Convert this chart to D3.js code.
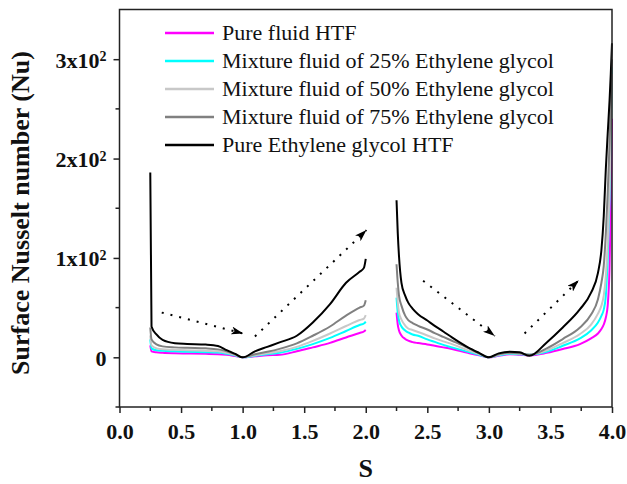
<!DOCTYPE html>
<html>
<head>
<meta charset="utf-8">
<script src="https://cdn.jsdelivr.net/npm/d3@7/dist/d3.min.js"></script>
<style>
  html, body { margin: 0; padding: 0; background: #fff; }
  svg { display: block; }
  text { font-family: "Liberation Serif", "Times New Roman", serif; fill: #111; }
</style>
</head>
<body>
<svg id="chart" width="627" height="484"></svg>
<script>
// Dimensionless position along the wall, first and second heated section
const sLeft = [0.25, 0.26, 0.3, 0.35, 0.45, 0.55, 0.7, 0.8, 0.87, 0.94, 1.0,
               1.1, 1.2, 1.3, 1.44, 1.57, 1.71, 1.84, 1.95, 1.985, 2.0];
const sRight = [2.25, 2.26, 2.27, 2.29, 2.32, 2.345, 2.38, 2.425, 2.5, 2.56, 2.63,
                2.7, 2.83, 2.92, 3.0, 3.08, 3.17, 3.25, 3.33, 3.47, 3.6, 3.74,
                3.83, 3.886, 3.914, 3.933, 3.95, 3.965, 3.98, 3.99, 4.0];

// Surface Nusselt number, first section
const nuPureFluidLeft = [12, 6, 5, 4.5, 4, 3.8, 3.5, 3.2, 2.5, 1.2, 0,
                         1, 2, 2.5, 6, 10, 14.5, 20, 24.5, 26, 27.4];
const nuEg25Left = [18, 9, 7, 6.5, 6, 5.5, 5.2, 4.8, 3.5, 1.8, 0,
                    1.5, 3, 4.5, 8.5, 13.3, 19.5, 26.5, 32.5, 34, 36];
const nuEg50Left = [22, 12, 9, 8, 7.5, 7, 6.5, 6, 4.5, 2.3, 0,
                    2, 4, 6, 10.5, 16.5, 24, 31.5, 37.5, 39, 42.5];
const nuEg75Left = [30, 18, 13, 11, 10, 9.5, 9, 8, 6, 3, 0,
                    3, 5.5, 8.5, 14, 21.7, 31, 42, 50, 52, 57.5];
const nuPureEgLeft = [186, 31, 23, 17.5, 14.2, 13.5, 12.8, 11.3, 7.3, 3.5, 0,
                      6, 10.5, 15, 21.7, 35, 53.5, 75, 86, 90, 99];

// Surface Nusselt number, second section
const nuPureFluidRight = [45, 33, 27, 22, 18.5, 16.7, 15.3, 14.3, 13, 11.6, 10,
                          8.3, 4.5, 2, 0, 1.5, 3, 2.5, 2, 4.5, 8.3, 13.3,
                          19, 24, 28.4, 33, 40, 52, 90, 150, 240];
const nuEg25Right = [60, 45, 37, 31, 27, 25, 23, 21.7, 18, 15.5, 12.5,
                     10, 5.5, 2.5, 0, 2, 3.5, 3, 2.5, 5.5, 11.6, 19,
                     27, 35, 41.7, 48, 62, 100, 160, 220, 292];
const nuEg50Right = [70, 55, 45, 38, 32, 29, 27.5, 25.5, 22, 19, 16,
                     13.3, 7, 3.3, 0, 2.5, 4, 3.5, 2.5, 7, 14.3, 23.4,
                     33, 44, 52, 62, 82, 115, 170, 225, 285];
const nuEg75Right = [93.6, 75, 62, 52, 42, 37.5, 34.5, 31.7, 28, 24.4, 20.5,
                     16.7, 9.5, 4, 0, 3, 4.5, 4, 2.5, 9, 18.4, 30,
                     43, 58.5, 75, 92, 125, 165, 215, 255, 300];
const nuPureEgRight = [158, 125, 102, 75, 62, 55, 49, 43.4, 37, 31.7, 26,
                       20, 10, 4.5, 0, 4, 5.6, 5, 1.5, 15, 30, 48.4,
                       65, 85, 108, 142, 190, 225, 258, 285, 316];

const seriesNames = ["Pure fluid HTF",
                     "Mixture fluid of 25% Ethylene glycol",
                     "Mixture fluid of 50% Ethylene glycol",
                     "Mixture fluid of 75% Ethylene glycol",
                     "Pure Ethylene glycol HTF"];

// Axis ticks
const xTicks = [0, 0.5, 1.0, 1.5, 2.0, 2.5, 3.0, 3.5, 4.0];
const xMinorTicks = [0.25, 0.75, 1.25, 1.75, 2.25, 2.75, 3.25, 3.75];
const yTicks = [0, 100, 200, 300];
const yTickMantissa = ["0", "1", "2", "3"];
const yMinorTicks = [-50, 50, 150, 250];

// Dotted trend arrows (start S, start Nu, end S, end Nu)
const trendArrows = [
  [0.343, 45, 1.005, 24],
  [1.10, 21, 2.006, 128],
  [2.466, 77, 3.048, 21.5],
  [3.29, 24, 3.73, 77.5]
];

const colors = ["#ff00ff", "#00ffff", "#c8c8c8", "#808080", "#000000"];

const svg = d3.select("#chart");
const margin = { left: 119.5, top: 9.5, right: 15, bottom: 77 };
const W = 627 - margin.left - margin.right;
const H = 484 - margin.top - margin.bottom;

const x = d3.scaleLinear().domain([0, 4]).range([margin.left, margin.left + W]);
const y = d3.scaleLinear().domain([-50, 350]).range([margin.top + H, margin.top]);

const seriesLeft = [nuPureFluidLeft, nuEg25Left, nuEg50Left, nuEg75Left, nuPureEgLeft];
const seriesRight = [nuPureFluidRight, nuEg25Right, nuEg50Right, nuEg75Right, nuPureEgRight];

const line = d3.line()
  .x(d => x(d[0]))
  .y(d => y(d[1]))
  .curve(d3.curveMonotoneX);

const plot = svg.append("g");
seriesLeft.forEach((vals, i) => {
  plot.append("path")
    .datum(sLeft.map((s, k) => [s, vals[k]]))
    .attr("d", line)
    .attr("fill", "none")
    .attr("stroke", colors[i])
    .attr("stroke-width", 2)
    .attr("stroke-linejoin", "round");
  plot.append("path")
    .datum(sRight.map((s, k) => [s, seriesRight[i][k]]))
    .attr("d", line)
    .attr("fill", "none")
    .attr("stroke", colors[i])
    .attr("stroke-width", 2)
    .attr("stroke-linejoin", "round");
});

// Trend arrows
const defs = svg.append("defs");
defs.append("marker")
  .attr("id", "head")
  .attr("viewBox", "0 0 12 8")
  .attr("refX", 12).attr("refY", 4)
  .attr("markerWidth", 12).attr("markerHeight", 8)
  .attr("markerUnits", "userSpaceOnUse")
  .attr("orient", "auto")
  .append("path")
  .attr("d", "M0,0 L12,4 L0,8 L3,4 Z")
  .attr("fill", "#000");

trendArrows.forEach(a => {
  svg.append("line")
    .attr("x1", x(a[0])).attr("y1", y(a[1]))
    .attr("x2", x(a[2])).attr("y2", y(a[3]))
    .attr("stroke", "#000")
    .attr("stroke-width", 2)
    .attr("stroke-dasharray", "2,7")
    .attr("marker-end", "url(#head)");
});

// Frame
svg.append("rect")
  .attr("x", margin.left).attr("y", margin.top)
  .attr("width", W).attr("height", H)
  .attr("fill", "none")
  .attr("stroke", "#222")
  .attr("stroke-width", 1.5);

// X axis
const xAxis = svg.append("g").attr("transform", `translate(0,${margin.top + H})`);
xAxis.call(d3.axisBottom(x).tickValues(xTicks).tickSize(6).tickFormat(d3.format(".1f")));
xAxis.call(g => g.select(".domain").remove());
xAxis.selectAll(".tick line").attr("stroke", "#222").attr("stroke-width", 1.5);
xAxis.selectAll(".tick text")
  .attr("font-family", "Liberation Serif")
  .attr("font-weight", "bold")
  .attr("font-size", 22)
  .attr("fill", "#111")
  .attr("dy", "1.05em");
xAxis.selectAll(".minor").data(xMinorTicks).enter().append("line")
  .attr("x1", d => x(d)).attr("x2", d => x(d))
  .attr("y1", 0).attr("y2", 4)
  .attr("stroke", "#222").attr("stroke-width", 1.5);

// Y axis
const yAxis = svg.append("g").attr("transform", `translate(${margin.left},0)`);
yAxis.call(d3.axisLeft(y).tickValues(yTicks).tickSize(6).tickFormat(""));
yAxis.call(g => g.select(".domain").remove());
yAxis.selectAll(".tick line").attr("stroke", "#222").attr("stroke-width", 1.5);
yAxis.selectAll(".tick").each(function(d, i) {
  const t = d3.select(this).append("text")
    .attr("x", -13)
    .attr("dy", "0.36em")
    .attr("text-anchor", "end")
    .attr("font-weight", "bold")
    .attr("font-size", 22);
  if (d === 0) {
    t.text(yTickMantissa[i]);
  } else {
    t.append("tspan").text(yTickMantissa[i] + "x10");
    t.append("tspan").attr("dy", "-0.45em").attr("font-size", 14).text("2");
  }
});
yAxis.selectAll(".minor").data(yMinorTicks).enter().append("line")
  .attr("x1", 0).attr("x2", -4)
  .attr("y1", d => y(d)).attr("y2", d => y(d))
  .attr("stroke", "#222").attr("stroke-width", 1.5);

// Axis titles
svg.append("text")
  .attr("x", margin.left + W / 2)
  .attr("y", 477)
  .attr("text-anchor", "middle")
  .attr("font-weight", "bold")
  .attr("font-size", 26)
  .text("S");

svg.append("text")
  .attr("transform", `translate(29,${213}) rotate(-90)`)
  .attr("text-anchor", "middle")
  .attr("font-weight", "bold")
  .attr("font-size", 26)
  .text("Surface Nusselt number (Nu)");

// Legend
const legend = svg.append("g");
seriesNames.forEach((name, i) => {
  const ly = 33 + i * 28;
  legend.append("line")
    .attr("x1", 165).attr("x2", 214)
    .attr("y1", ly).attr("y2", ly)
    .attr("stroke", colors[i])
    .attr("stroke-width", 2.5);
  legend.append("text")
    .attr("x", 222).attr("y", ly)
    .attr("dy", "0.34em")
    .attr("font-size", 22)
    .text(name);
});
</script>
</body>
</html>
